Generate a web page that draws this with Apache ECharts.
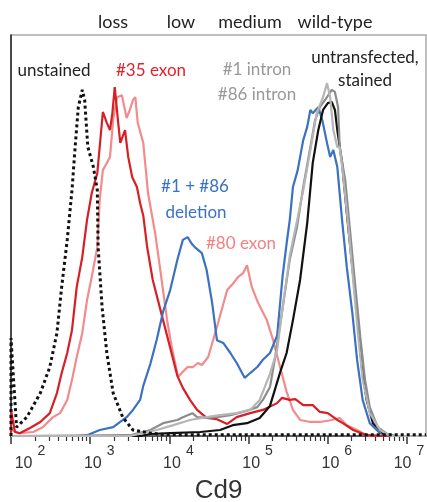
<!DOCTYPE html>
<html>
<head>
<meta charset="utf-8">
<script src="https://cdn.jsdelivr.net/npm/echarts@6/dist/echarts.min.js"></script>
<style>
    html, body { margin: 0; padding: 0; background: #fff; }
    #main { width: 427px; height: 502px; }
</style>
</head>
<body>
<div id="main"></div>
<script>
// x = log10(Cd9 intensity), y = % of max height of the plot
const decades = [2, 3, 4, 5, 6, 7];

const unstained = [[2.00,0],[2.00,24.4],[2.07,2.2],[2.20,4.7],[2.37,10.7],[2.49,17.2],[2.58,25.7],[2.64,37.2],[2.71,48.9],[2.77,61.3],[2.81,72.1],[2.85,82.0],[2.90,86.3],[2.93,83.8],[2.97,72.1],[3.04,67.1],[3.09,61.3],[3.10,47.1],[3.15,32.2],[3.21,20.7],[3.29,10.7],[3.41,4.7],[3.54,1.5],[3.76,0.7],[3.97,0.3],[7.24,0.3]];

const exon35 = [[2.00,0],[2.00,6.5],[2.05,1.0],[2.11,0.7],[2.24,2.0],[2.37,3.5],[2.49,5.7],[2.58,10.7],[2.64,15.7],[2.71,20.7],[2.77,26.4],[2.83,37.2],[2.90,44.6],[2.96,53.9],[3.02,60.6],[3.09,65.6],[3.12,72.1],[3.16,80.8],[3.21,78.1],[3.25,76.3],[3.28,80.5],[3.31,87.0],[3.35,78.8],[3.38,73.1],[3.40,73.1],[3.44,76.3],[3.48,69.6],[3.53,64.6],[3.59,62.1],[3.63,58.1],[3.67,55.0],[3.72,47.0],[3.79,38.9],[3.92,28.9],[4.01,22.0],[4.10,15.0],[4.17,12.0],[4.26,9.0],[4.35,6.5],[4.47,4.5],[4.60,4.2],[4.73,3.0],[4.85,4.7],[5.02,5.7],[5.18,6.5],[5.36,8.2],[5.42,9.5],[5.52,9.0],[5.59,9.2],[5.69,7.7],[5.81,7.7],[5.90,6.0],[6.00,5.7],[6.12,4.0],[6.19,3.2],[6.32,1.5],[6.49,0.2],[6.70,0],[7.24,0]];

const exon80 = [[2.01,1.5],[2.11,0.7],[2.28,1.0],[2.40,2.2],[2.53,4.7],[2.62,5.7],[2.71,9.0],[2.77,14.0],[2.83,19.7],[2.90,25.7],[2.96,33.9],[3.02,39.7],[3.09,47.1],[3.12,58.9],[3.16,66.3],[3.21,68.1],[3.25,69.6],[3.29,78.8],[3.34,84.5],[3.40,85.0],[3.46,79.3],[3.50,81.3],[3.54,83.8],[3.57,84.5],[3.60,78.1],[3.67,73.1],[3.73,60.6],[3.82,50.6],[3.88,42.1],[3.97,29.0],[4.03,22.2],[4.11,14.7],[4.17,16.0],[4.23,17.2],[4.30,17.2],[4.36,18.2],[4.41,17.7],[4.49,19.7],[4.60,27.2],[4.73,36.4],[4.79,37.7],[4.87,39.7],[4.93,40.6],[4.98,42.6],[5.04,37.2],[5.12,33.2],[5.23,28.9],[5.31,23.9],[5.40,17.0],[5.48,11.0],[5.56,6.5],[5.65,4.0],[5.78,3.5],[5.90,3.5],[6.05,4.0],[6.15,4.5],[6.24,2.7],[6.37,1.5],[6.49,0.2],[6.70,0],[7.24,0]];

const deletion = [[2.00,0],[2.83,0],[2.96,0.2],[3.12,1.5],[3.29,2.2],[3.46,4.7],[3.54,6.5],[3.63,9.0],[3.67,12.5],[3.76,18.0],[3.84,24.0],[3.92,31.0],[4.01,36.4],[4.10,43.9],[4.17,48.9],[4.23,49.6],[4.28,48.0],[4.32,47.1],[4.41,45.6],[4.47,41.4],[4.54,33.2],[4.60,23.9],[4.68,23.2],[4.77,20.7],[4.85,18.2],[4.95,14.5],[5.02,15.7],[5.11,17.2],[5.18,19.0],[5.27,20.7],[5.36,25.0],[5.43,40.0],[5.48,48.0],[5.52,53.9],[5.56,62.1],[5.62,66.3],[5.69,73.8],[5.74,77.1],[5.78,81.3],[5.81,80.5],[5.88,82.0],[5.93,78.8],[5.99,73.1],[6.03,69.6],[6.07,71.3],[6.12,67.1],[6.18,53.9],[6.24,42.1],[6.31,30.7],[6.37,19.0],[6.44,9.0],[6.53,3.2],[6.66,0.7],[6.79,0],[7.24,0]];

const stained = [[2.00,0],[3.63,0],[3.76,0.5],[4.01,0.7],[4.39,1.0],[4.64,1.5],[4.80,2.7],[4.98,3.2],[5.14,4.5],[5.27,7.5],[5.40,16.0],[5.48,20.7],[5.56,28.9],[5.65,38.9],[5.74,53.1],[5.81,68.1],[5.88,76.3],[5.94,81.3],[6.00,83.0],[6.05,83.3],[6.09,81.3],[6.12,76.3],[6.18,68.1],[6.24,55.6],[6.31,42.1],[6.37,30.7],[6.43,17.2],[6.49,9.0],[6.57,3.2],[6.70,0.7],[6.82,0],[7.24,0]];

const intron86 = [[2.00,0],[3.50,0.2],[3.76,1.5],[3.92,3.2],[4.10,4.0],[4.17,4.7],[4.29,5.7],[4.35,4.7],[4.47,4.5],[4.60,4.7],[4.77,5.2],[4.93,6.0],[5.11,7.2],[5.18,9.0],[5.27,12.2],[5.33,19.0],[5.43,32.0],[5.52,44.0],[5.61,52.0],[5.69,62.1],[5.78,72.1],[5.84,78.8],[5.90,82.0],[5.99,84.5],[6.05,86.3],[6.09,85.8],[6.13,82.0],[6.15,72.1],[6.22,63.8],[6.28,51.4],[6.34,38.9],[6.41,24.7],[6.47,14.0],[6.53,7.2],[6.63,2.2],[6.75,0.5],[6.87,0],[7.24,0]];

const intron1 = [[2.00,0],[3.50,0],[3.84,1.5],[4.05,2.7],[4.26,4.0],[4.47,4.7],[4.64,5.2],[4.85,5.7],[5.02,6.5],[5.14,9.0],[5.27,15.5],[5.36,21.4],[5.43,32.0],[5.52,45.0],[5.61,53.5],[5.69,61.3],[5.78,71.3],[5.86,80.5],[5.94,84.5],[5.99,88.0],[6.03,84.5],[6.07,76.3],[6.12,72.1],[6.15,72.1],[6.19,65.6],[6.26,52.1],[6.32,38.9],[6.38,25.7],[6.44,14.0],[6.53,5.7],[6.66,1.5],[6.79,0],[7.24,0]];

const minorTicks = [];
decades.slice(0, -1).forEach(d => {
    for (let k = 2; k <= 9; k++) minorTicks.push(d + Math.log10(k));
});

const myChart = echarts.init(document.getElementById('main'));
const labelFont = 'Lato, "Open Sans", sans-serif';
const axisFont = 'Arial, "Liberation Sans", sans-serif';

function line(name, data, color, width, type) {
    return {
        name: name,
        type: 'line',
        data: data,
        showSymbol: false,
        symbol: 'none',
        animation: false,
        xAxisIndex: 0,
        lineStyle: { color: color, width: width, type: type || 'solid', cap: 'butt' }
    };
}

function txt(text, x, y, color, size) {
    return {
        type: 'text', x: x, y: y,
        style: { text: text, fill: color, font: (size || 17) + 'px ' + labelFont, textAlign: 'center', textVerticalAlign: 'middle' }
    };
}

const option = {
    animation: false,
    grid: {
        left: 11, right: 1, top: 35, bottom: 66,
        containLabel: false, outerBoundsMode: 'none',
        show: true, borderColor: '#aaa', borderWidth: 1.5
    },
    xAxis: [
        {
            type: 'value', min: 2, max: 7.24, interval: 1,
            name: 'Cd9', nameLocation: 'middle', nameGap: 42,
            nameTextStyle: { fontSize: 26, color: '#333', fontFamily: axisFont },
            axisLine: { lineStyle: { color: '#444', width: 1.5 } },
            axisTick: { length: 8, customValues: decades, lineStyle: { color: '#333', width: 1.5 } },
            splitLine: { show: false },
            axisLabel: {
                customValues: decades,
                margin: 8,
                color: '#333',
                fontFamily: axisFont,
                formatter: function (v) {
                    const e = Math.round(v);
                    const g = e === 2 ? 'g2' : (e === 7 ? 'g7' : 'g');
                    return '{' + g + '| }{b|10}{s|' + e + '}';
                },
                rich: {
                    g: { width: 18, height: 28 },
                    g2: { width: 38, height: 28 },
                    g7: { width: 4, height: 28 },
                    b: { fontSize: 16, height: 16, verticalAlign: 'bottom', color: '#333', fontFamily: axisFont },
                    s: { fontSize: 14, height: 14, verticalAlign: 'top', padding: [0, 0, 0, 5], color: '#333', fontFamily: axisFont }
                }
            }
        },
        {
            type: 'value', min: 2, max: 7.24, position: 'bottom',
            axisLine: { show: false },
            axisTick: { length: 5, customValues: minorTicks, lineStyle: { color: '#333', width: 1.2 } },
            axisLabel: { show: false },
            splitLine: { show: false }
        }
    ],
    yAxis: {
        type: 'value', min: 0, max: 100,
        axisLine: { show: true, lineStyle: { color: '#222', width: 1.5 } },
        axisTick: { show: false },
        axisLabel: { show: false },
        splitLine: { show: false }
    },
    series: [
        line('#80 exon', exon80, '#f28b8b', 2.2),
        line('#35 exon', exon35, '#d71f26', 2.2),
        line('#1 + #86 deletion', deletion, '#3a72c1', 2.2),
        line('untransfected, stained', stained, '#111', 2.2),
        line('#86 intron', intron86, '#8c8c8c', 2.2),
        line('#1 intron', intron1, '#b5b5b5', 2.2),
        line('unstained', unstained, '#111', 3, [3, 3])
    ],
    graphic: [
        txt('loss', 113, 22, '#222', 18),
        txt('low', 181, 22, '#222', 18),
        txt('medium', 250, 22, '#222', 18),
        txt('wild-type', 335, 22, '#222', 18),
        txt('unstained', 54, 71, '#222'),
        txt('#35 exon', 151, 71, '#e3222b'),
        txt('#1 intron', 257, 70, '#999'),
        txt('#86 intron', 257, 95, '#999'),
        txt('untransfected,', 365, 58, '#222'),
        txt('stained', 365, 81, '#222'),
        txt('#1 + #86', 195, 187, '#3a72c1'),
        txt('deletion', 196, 213, '#3a72c1'),
        txt('#80 exon', 241, 244, '#f28282')
    ]
};

myChart.setOption(option);
</script>
</body>
</html>
